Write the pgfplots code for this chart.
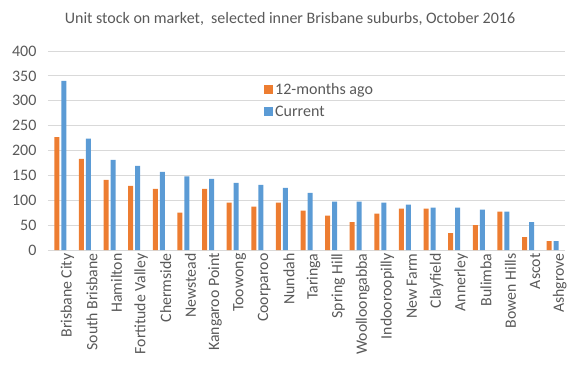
\documentclass[border=0pt]{standalone}
\usepackage{pgfplots}
\pgfplotsset{compat=1.18}
\usepackage{fontspec}
\setmainfont{Carlito}
\definecolor{txt}{HTML}{595959}
\definecolor{grd}{HTML}{D9D9D9}
\definecolor{orng}{HTML}{ED7D31}
\definecolor{blu}{HTML}{5B9BD5}
\begin{document}
\begin{tikzpicture}[x=1pt,y=1pt]
\useasboundingbox (-48,-136) rectangle (532,250);
\begin{axis}[
  at={(0,0)}, anchor=south west,
  scale only axis, width=517pt, height=199pt,
  ymin=0, ymax=400, ytick={0,50,...,400},
  xmin=-0.5, xmax=20.5,
  xtick={0,...,20},
  xticklabels={Brisbane City,South Brisbane,Hamilton,Fortitude Valley,Chermside,Newstead,Kangaroo Point,Toowong,Coorparoo,Nundah,Taringa,Spring Hill,Woolloongabba,Indooroopilly,New Farm,Clayfield,Annerley,Bulimba,Bowen Hills,Ascot,Ashgrove},
  x tick label style={rotate=90, anchor=east, font=\fontsize{15.8}{17}\selectfont, text=txt},
  y tick label style={font=\fontsize{16}{18}\selectfont, text=txt},
  /pgf/number format/assume math mode=true,
  major tick length=0pt,
  xtick style={draw=none}, ytick style={draw=none},
  ymajorgrids, grid style={grd, line width=1pt},
  axis x line*=bottom,
  axis y line*=left,
  x axis line style={draw=grd, line width=1pt, -},
  y axis line style={draw=none},
  xticklabel style={yshift=-7pt},
  yticklabel style={xshift=-8pt},
  ybar=2pt, bar width=5pt,
  legend style={at={(0.412,0.86)}, anchor=north west, draw=none, fill=none,
    font=\fontsize{16}{18}\selectfont, text=txt, row sep=6pt,
    legend cell align=left},
  legend image code/.code={\fill[#1] (0pt,-4.5pt) rectangle (9pt,4.5pt);},
  clip=false,
]
\addplot[fill=orng, draw=none] coordinates {(0,227) (1,183) (2,141) (3,129) (4,123) (5,75) (6,123) (7,95) (8,87) (9,95) (10,79) (11,69) (12,56) (13,73) (14,83) (15,83) (16,34) (17,50) (18,77) (19,26) (20,18)};
\addplot[fill=blu, draw=none] coordinates {(0,340) (1,224) (2,181) (3,169) (4,157) (5,148) (6,143) (7,135) (8,131) (9,125) (10,115) (11,97) (12,97) (13,95) (14,91) (15,85) (16,85) (17,81) (18,77) (19,56) (20,18)};
\legend{12-months ago, Current}
\end{axis}
\node[text=txt, font=\fontsize{16}{18}\selectfont] at (242,231) {Unit stock on market,\ \ selected inner Brisbane suburbs, October 2016};
\end{tikzpicture}
\end{document}
